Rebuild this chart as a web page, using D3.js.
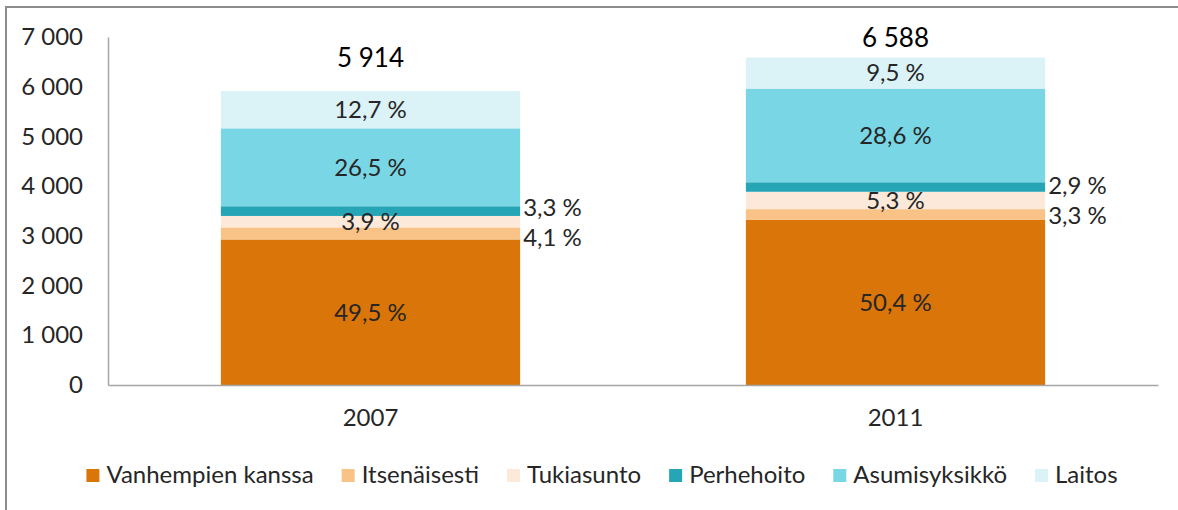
<!DOCTYPE html>
<html>
<head>
<meta charset="utf-8">
<script src="https://cdn.jsdelivr.net/npm/d3@7"></script>
<style>
  body { margin: 0; background: #fff; }
  svg { display: block; font-family: Lato, "Open Sans", sans-serif; }
</style>
</head>
<body>
<svg id="chart" width="1178" height="510"></svg>
<script>
const years = ['2007', '2011']
const totals = [5914, 6588]
const series = ['Vanhempien kanssa', 'Itsenäisesti', 'Tukiasunto', 'Perhehoito', 'Asumisyksikkö', 'Laitos']
// share of each series per year, %
const pct2007 = [49.5, 4.1, 3.9, 3.3, 26.5, 12.7]
const pct2011 = [50.4, 3.3, 5.3, 2.9, 28.6, 9.5]
const yTicks = [0, 1000, 2000, 3000, 4000, 5000, 6000, 7000]
const colors = ['#d97509', '#f9c388', '#fde9da', '#26a5b6', '#79d6e4', '#dbf3f6']
// labels drawn beside the bar instead of inside
const outside = [[1, 3], [1, 3]]

const pcts = [pct2007, pct2011]

const margin = { top: 37, left: 108 }
const fs = 24

const svg = d3.select('#chart')

// frame (only left and top edges are visible in the crop)
svg.append('path')
  .attr('d', `M6,510 V7 H1178`)
  .attr('fill', 'none')
  .attr('stroke', '#8c8c8c')
  .attr('stroke-width', 2)

const x = d3.scaleBand()
  .domain(years)
  .range([margin.left, margin.left + 1050])
  .paddingInner(0.43)
  .paddingOuter(0.215)

const y = d3.scaleLinear()
  .domain([0, 7000])
  .range([385, margin.top])

const fmt = v => d3.format(',')(v).replace(/,/g, ' ')
const fmtPct = v => d3.format('.1f')(v).replace('.', ',') + ' %'

// y axis
const yAxis = svg.append('g')
  .attr('transform', `translate(${margin.left},0)`)
  .call(d3.axisLeft(y).tickValues(yTicks).tickSize(0).tickPadding(25).tickFormat(fmt))
yAxis.select('.domain').attr('stroke', '#a6a6a6').attr('stroke-width', 1.5)
yAxis.selectAll('text')
  .attr('font-size', fs)
  .attr('fill', '#262626')
  .attr('font-family', 'Lato')

// stacked data
const stacked = years.map((yr, i) => {
  let cum = 0
  return pcts[i].map((p, j) => {
    const v = totals[i] * p / 100
    const seg = { year: yr, series: j, pct: p, y0: cum, y1: cum + v }
    cum += v
    return seg
  })
})

const bars = svg.append('g')
stacked.forEach((segs, i) => {
  bars.selectAll(null)
    .data(segs)
    .enter()
    .append('rect')
      .attr('x', x(years[i]))
      .attr('width', x.bandwidth())
      .attr('y', d => y(d.y1))
      .attr('height', d => y(d.y0) - y(d.y1))
      .attr('fill', d => colors[d.series])
})

// x axis
const xAxis = svg.append('g')
  .attr('transform', `translate(0,385)`)
  .call(d3.axisBottom(x).tickSize(0).tickPadding(24))
xAxis.select('.domain').attr('stroke', '#a6a6a6').attr('stroke-width', 1.5)
xAxis.selectAll('text')
  .attr('font-size', fs)
  .attr('fill', '#262626')
  .attr('font-family', 'Lato')

// label positions; outside labels are pushed apart so they don't collide
stacked.forEach((segs, i) => {
  segs.forEach(d => { d.ly = y((d.y0 + d.y1) / 2) })
  const out = segs.filter(d => outside[i].includes(d.series))
  const minGap = 30
  for (let k = 1; k < out.length; k++) {
    const lo = out[k - 1], hi = out[k]
    const gap = lo.ly - hi.ly
    if (gap < minGap) {
      const shift = (minGap - gap) / 2
      lo.ly += shift
      hi.ly -= shift
    }
  }
})

// segment labels
const labels = svg.append('g')
  .attr('font-size', fs)
  .attr('fill', '#262626')
stacked.forEach((segs, i) => {
  labels.selectAll(null)
    .data(segs)
    .enter()
    .append('text')
      .attr('x', d => outside[i].includes(d.series) ? x(years[i]) + x.bandwidth() + 3 : x(years[i]) + x.bandwidth() / 2)
      .attr('y', d => d.ly)
      .attr('dy', '0.35em')
      .attr('text-anchor', d => outside[i].includes(d.series) ? 'start' : 'middle')
      .text(d => fmtPct(d.pct))
})

// totals
svg.append('g')
  .selectAll('text')
  .data(years)
  .enter()
  .append('text')
    .attr('x', d => x(d) + x.bandwidth() / 2)
    .attr('y', (d, i) => Math.max(y(totals[i]) - 33, 38))
    .attr('dy', '0.35em')
    .attr('text-anchor', 'middle')
    .attr('font-size', 26)
    .attr('fill', '#000')
    .text((d, i) => fmt(totals[i]))

// legend
const legend = svg.append('g')
  .attr('font-size', fs)
  .attr('fill', '#262626')
const gap = 28
let lx = 0
series.forEach((s, j) => {
  const g = legend.append('g')
  g.append('rect')
    .attr('width', 13).attr('height', 13)
    .attr('y', -6)
    .attr('fill', colors[j])
  const t = g.append('text')
    .attr('x', 20)
    .attr('dy', '0.35em')
    .text(s)
  g.attr('transform', `translate(${lx},0)`)
  lx += 20 + t.node().getComputedTextLength() + gap
})
const legendWidth = lx - gap
legend.attr('transform', `translate(${602 - legendWidth / 2},475)`)
</script>
</body>
</html>
